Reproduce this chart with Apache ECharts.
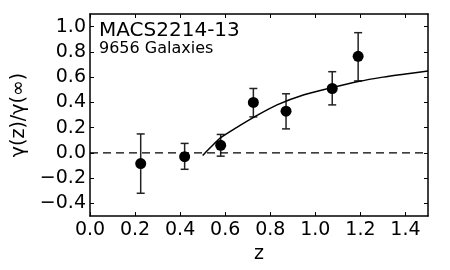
<!DOCTYPE html>
<html>
<head>
<meta charset="utf-8">
<script src="https://cdn.jsdelivr.net/npm/echarts@6/dist/echarts.min.js"></script>
<style>html,body{margin:0;padding:0;background:#fff}#c{width:450px;height:270px}</style>
</head>
<body>
<div id="c"></div>
<script>
// Data
var pointZ   = [0.225, 0.42, 0.58, 0.725, 0.87, 1.075, 1.19];
var pointVal = [-0.085, -0.03, 0.06, 0.40, 0.33, 0.51, 0.765];
var errLow   = [-0.32, -0.13, -0.026, 0.285, 0.19, 0.38, 0.57];
var errHigh  = [0.15, 0.075, 0.146, 0.51, 0.468, 0.643, 0.952];
var curveZ   = [0.50, 0.55, 0.58, 0.65, 0.73, 0.83, 0.95, 1.07, 1.19, 1.30, 1.40, 1.50];
var curveVal = [-0.02, 0.07, 0.12, 0.20, 0.285, 0.38, 0.46, 0.515, 0.565, 0.60, 0.625, 0.648];
var zeroLineZ = [0, 1.5];
var zeroLineVal = [0, 0];
var xTicks = [0.0, 0.2, 0.4, 0.6, 0.8, 1.0, 1.2, 1.4];
var yTicks = [-0.4, -0.2, 0.0, 0.2, 0.4, 0.6, 0.8, 1.0];
var titleText = 'MACS2214-13';
var subText = '9656 Galaxies';

var FONT = 'DejaVu Sans';
function fmt(v){ var s = Math.abs(v).toFixed(1); return (v < -1e-9 ? '\u2212' : '') + s; }

var points = pointZ.map(function(z,i){ return [z, pointVal[i]]; });
var errs = pointZ.map(function(z,i){ return [z, errLow[i], errHigh[i]]; });
var curve = curveZ.map(function(z,i){ return [z, curveVal[i]]; });
var zero = zeroLineZ.map(function(z,i){ return [z, zeroLineVal[i]]; });

function axisCommon(showLabels){
  return {
    type: 'value',
    axisLine: { show: true, onZero: false, lineStyle: { color: '#000', width: 1.5 } },
    axisTick: { show: true, inside: true, length: 4, lineStyle: { color: '#000', width: 1 } },
    splitLine: { show: false },
    axisLabel: { show: showLabels, color: '#000', fontFamily: FONT, fontSize: 19 }
  };
}

var xMain = axisCommon(true);
xMain.min = 0; xMain.max = 1.5; xMain.position = 'bottom';
xMain.axisTick.customValues = xTicks;
xMain.axisLabel.customValues = xTicks;
xMain.axisLabel.formatter = fmt;
xMain.axisLabel.margin = 5;
xMain.name = 'z'; xMain.nameLocation = 'middle'; xMain.nameGap = 21;
xMain.nameTextStyle = { color: '#000', fontFamily: FONT, fontSize: 19 };

var xTop = axisCommon(false);
xTop.min = 0; xTop.max = 1.5; xTop.position = 'top';
xTop.axisTick.customValues = xTicks;

var yMain = axisCommon(true);
yMain.min = -0.5; yMain.max = 1.1; yMain.position = 'left';
yMain.axisTick.customValues = yTicks;
yMain.axisLabel.customValues = yTicks;
yMain.axisLabel.formatter = fmt;
yMain.axisLabel.margin = 4;
yMain.name = '\u03b3(z)/\u03b3(\u221e)'; yMain.nameLocation = 'middle'; yMain.nameGap = 61;
yMain.nameTextStyle = { color: '#000', fontFamily: FONT, fontSize: 19 };

var yRight = axisCommon(false);
yRight.min = -0.5; yRight.max = 1.1; yRight.position = 'right';
yRight.axisTick.customValues = yTicks;

var chart = echarts.init(document.getElementById('c'), null, { renderer: 'canvas' });
chart.setOption({
  animation: false,
  backgroundColor: '#fff',
  title: {
    text: titleText, subtext: subText, left: 99, top: 21, itemGap: 0, padding: 0,
    textStyle: { color: '#000', fontFamily: FONT, fontSize: 20, fontWeight: 'normal' },
    subtextStyle: { color: '#000', fontFamily: FONT, fontSize: 16 }
  },
  grid: { left: 90, right: 22, top: 14, bottom: 54 },
  xAxis: [xMain, xTop],
  yAxis: [yMain, yRight],
  series: [
    { type: 'line', data: zero, symbol: 'none', silent: true,
      lineStyle: { color: '#000', width: 1.3, type: [8, 5] } },
    { type: 'line', data: curve, symbol: 'none', smooth: 0.3, silent: true,
      lineStyle: { color: '#000', width: 1.5 } },
    { type: 'custom', data: errs, silent: true,
      renderItem: function(params, api){
        var x = api.value(0);
        var lo = api.coord([x, api.value(1)]);
        var hi = api.coord([x, api.value(2)]);
        var w = 4;
        var st = { stroke: '#222', lineWidth: 1.5 };
        return { type: 'group', children: [
          { type: 'line', shape: { x1: lo[0], y1: lo[1], x2: hi[0], y2: hi[1] }, style: st },
          { type: 'line', shape: { x1: lo[0]-w, y1: lo[1], x2: lo[0]+w, y2: lo[1] }, style: st },
          { type: 'line', shape: { x1: hi[0]-w, y1: hi[1], x2: hi[0]+w, y2: hi[1] }, style: st }
        ]};
      },
      encode: { x: 0, y: [1, 2] }, z: 3 },
    { type: 'scatter', data: points, symbol: 'circle', symbolSize: 11, silent: true,
      itemStyle: { color: '#000', opacity: 1 }, z: 4 }
  ]
});
</script>
</body>
</html>
